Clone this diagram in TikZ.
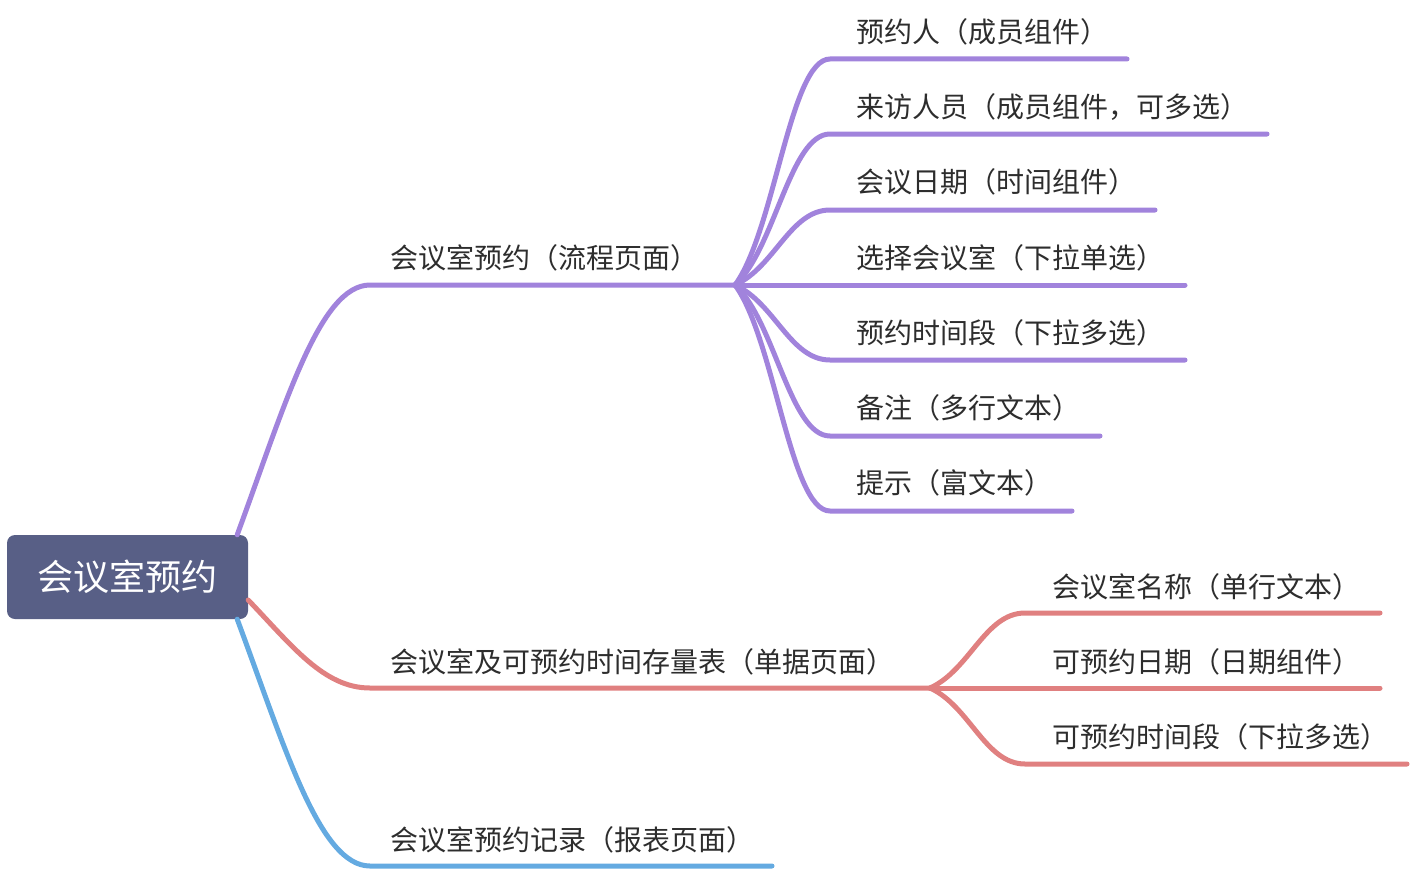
\documentclass[tikz,border=0pt]{standalone}
\usepackage{fontspec}
\setmainfont{Noto Sans CJK SC}
\usetikzlibrary{calc}

\definecolor{rootblue}{RGB}{88,95,134}
\definecolor{lilac}{RGB}{161,131,220}
\definecolor{rose}{RGB}{224,128,128}
\definecolor{sky}{RGB}{100,170,225}
\definecolor{ink}{RGB}{45,45,45}

\tikzset{
  rootbox/.style={fill=rootblue, rounded corners=8pt, text=white, inner sep=0pt,
    minimum width=241pt, minimum height=84pt, font=\fontsize{36}{40}\selectfont},
  topic/.style={anchor=west, inner sep=0pt, text=ink, font=\fontsize{28}{32}\selectfont},
  branch/.style={line width=5pt, line cap=round},
  stem/.style={to path={let \p1=(\tikztostart), \p2=(\tikztotarget) in
    .. controls ({\x1+0.36*(\x2-\x1)},{\y1+0.52*(\y2-\y1)}) and ({\x2-0.38*(\x2-\x1)},\y2) .. (\tikztotarget)}},
  twig/.style={to path={let \p1=(\tikztostart), \p2=(\tikztotarget) in
    .. controls ({\x1+0.42*(\x2-\x1)},{\y1+0.24*(\y2-\y1)}) and ({\x2-0.42*(\x2-\x1)},\y2) .. (\tikztotarget)}},
}

\begin{document}
\begin{tikzpicture}[x=1pt,y=-1pt]
  \useasboundingbox (0,0) rectangle (1412,872);

  \node[rootbox] (root) at (127.5,577) {会议室预约};

  % first level
  \coordinate (bookL) at (370,285);
  \coordinate (bookH) at (735,285);
  \coordinate (stockL) at (370,688);
  \coordinate (stockH) at (930,688);
  \coordinate (logL) at (370,866);
  \coordinate (logE) at (772,866);
  \coordinate (rootN) at ([xshift=-11pt]root.north east);
  \coordinate (rootE) at ([yshift=-23pt]root.east);
  \coordinate (rootS) at ([xshift=-11pt]root.south east);

  \node[topic] (book) at (390,258) {会议室预约（流程页面）};
  \node[topic] (stock) at (390,662) {会议室及可预约时间存量表（单据页面）};
  \node[topic] (log) at (390,840) {会议室预约记录（报表页面）};

  \draw[branch,lilac] (rootN) to[stem] (bookL) -- (bookH);
  \draw[branch,rose] (rootE) to[stem] (stockL) -- (stockH);
  \draw[branch,sky] (rootS) to[stem] (logL) -- (logE);

  % children of book
  \coordinate (book1a) at (830,59);  \coordinate (book1b) at (1127,59);
  \coordinate (book2a) at (830,134); \coordinate (book2b) at (1267,134);
  \coordinate (book3a) at (830,210); \coordinate (book3b) at (1155,210);
  \coordinate (book4a) at (830,285); \coordinate (book4b) at (1185,285);
  \coordinate (book5a) at (830,360); \coordinate (book5b) at (1185,360);
  \coordinate (book6a) at (830,436); \coordinate (book6b) at (1100,436);
  \coordinate (book7a) at (830,511); \coordinate (book7b) at (1072,511);

  \node[topic] (book1) at (856,32) {预约人（成员组件）};
  \node[topic] (book2) at (856,107) {来访人员（成员组件，可多选）};
  \node[topic] (book3) at (856,182) {会议日期（时间组件）};
  \node[topic] (book4) at (856,258) {选择会议室（下拉单选）};
  \node[topic] (book5) at (856,333) {预约时间段（下拉多选）};
  \node[topic] (book6) at (856,408) {备注（多行文本）};
  \node[topic] (book7) at (856,483) {提示（富文本）};

  \draw[branch,lilac] (bookH) to[twig] (book1a) -- (book1b);
  \draw[branch,lilac] (bookH) to[twig] (book2a) -- (book2b);
  \draw[branch,lilac] (bookH) to[twig] (book3a) -- (book3b);
  \draw[branch,lilac] (bookH) -- (book4a) -- (book4b);
  \draw[branch,lilac] (bookH) to[twig] (book5a) -- (book5b);
  \draw[branch,lilac] (bookH) to[twig] (book6a) -- (book6b);
  \draw[branch,lilac] (bookH) to[twig] (book7a) -- (book7b);

  % children of stock
  \coordinate (stock1a) at (1025,613); \coordinate (stock1b) at (1380,613);
  \coordinate (stock2a) at (1025,688); \coordinate (stock2b) at (1380,688);
  \coordinate (stock3a) at (1025,764); \coordinate (stock3b) at (1407,764);

  \node[topic] (stock1) at (1052,587) {会议室名称（单行文本）};
  \node[topic] (stock2) at (1052,662) {可预约日期（日期组件）};
  \node[topic] (stock3) at (1052,737) {可预约时间段（下拉多选）};

  \draw[branch,rose] (stockH) to[twig] (stock1a) -- (stock1b);
  \draw[branch,rose] (stockH) -- (stock2a) -- (stock2b);
  \draw[branch,rose] (stockH) to[twig] (stock3a) -- (stock3b);
\end{tikzpicture}
\end{document}
